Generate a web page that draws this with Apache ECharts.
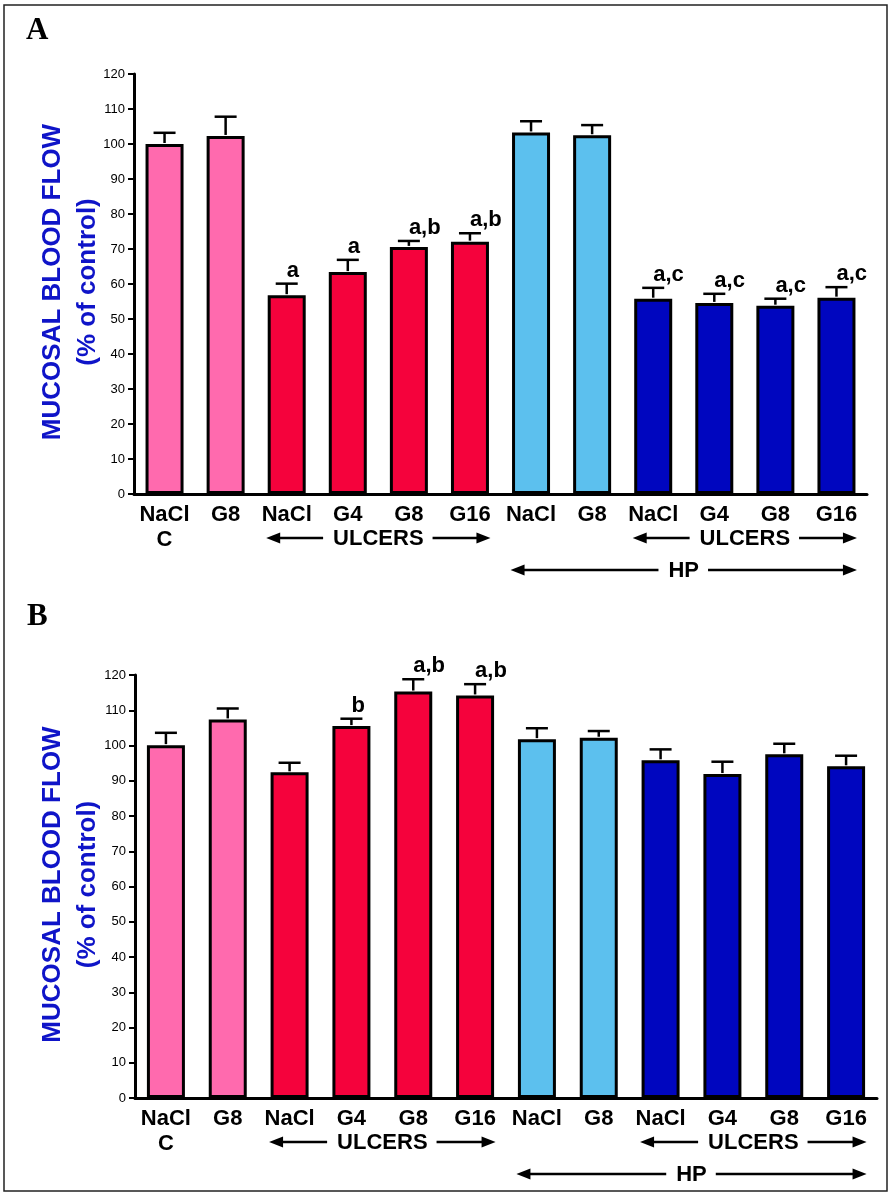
<!DOCTYPE html>
<html>
<head>
<meta charset="utf-8">
<script src="https://cdn.jsdelivr.net/npm/echarts@6/dist/echarts.min.js"></script>
<style>
html,body{margin:0;padding:0;background:#fff;}
#chart{width:890px;height:1194px;}
</style>
</head>
<body>
<div id="chart"></div>
<script>
// ---------- data ----------
const categories = ['NaCl\nC', 'G8', 'NaCl', 'G4', 'G8', 'G16', 'NaCl', 'G8', 'NaCl', 'G4', 'G8', 'G16'];
const flowA = [100.0, 102.3, 56.8, 63.4, 70.6, 72.1, 103.3, 102.5, 55.8, 54.6, 53.8, 56.1];
const semA  = [3.2, 5.5, 3.3, 3.5, 1.7, 2.4, 3.2, 2.9, 3.1, 2.6, 2.0, 3.0];
const sigA  = ['', '', 'a', 'a', 'a,b', 'a,b', '', '', 'a,c', 'a,c', 'a,c', 'a,c'];
const flowB = [100.1, 107.4, 92.4, 105.5, 115.3, 114.2, 101.8, 102.2, 95.8, 91.9, 97.5, 94.1];
const semB  = [3.5, 3.1, 2.7, 2.1, 3.5, 3.2, 3.1, 1.9, 3.1, 3.5, 3.0, 3.0];
const sigB  = ['', '', '', 'b', 'a,b', 'a,b', '', '', '', '', '', ''];
const yTitle = ['MUCOSAL BLOOD FLOW', '(% of control)'];
const groupSpans = [
  {from: 2, to: 5, text: 'ULCERS', row: 1},
  {from: 8, to: 11, text: 'ULCERS', row: 1},
  {from: 6, to: 11, text: 'HP', row: 2}
];
const panelLabels = ['A', 'B'];

// ---------- styles ----------
const barColors = ['#FF6AAE', '#FF6AAE', '#F5023C', '#F5023C', '#F5023C', '#F5023C',
                   '#5CC0EE', '#5CC0EE', '#0006BF', '#0006BF', '#0006BF', '#0006BF'];
const FONT = '"Liberation Sans", Arial, sans-serif';
const TITLE_COLOR = '#0F14C8';
const BAR_W = 38, BAR_BORDER = 3;
const HALF_OUTER = (BAR_W + BAR_BORDER) / 2;
const rowOffsets = {1: 44, 2: 76};

const mctx = document.createElement('canvas').getContext('2d');
mctx.font = 'bold 22px "Liberation Sans"';
function textW(t) { return mctx.measureText(t).width; }

const chart = echarts.init(document.getElementById('chart'));

const grids = [
  {left: 134, top: 74, width: 733, height: 420},
  {left: 135, top: 675, width: 742, height: 423}
];

function xAxis(gi) {
  return {
    type: 'category', gridIndex: gi, data: categories,
    axisLine: {lineStyle: {color: '#000', width: 3}},
    axisTick: {show: false},
    axisLabel: {color: '#000', fontFamily: FONT, fontWeight: 'bold', fontSize: 22, lineHeight: 25, margin: 8, interval: 0}
  };
}
function yAxis(gi) {
  return {
    type: 'value', gridIndex: gi, min: 0, max: 120, interval: 10,
    axisLine: {show: true, lineStyle: {color: '#000', width: 3}},
    axisTick: {show: true, length: 6, lineStyle: {color: '#000', width: 2}},
    axisLabel: {color: '#000', fontFamily: FONT, fontSize: 13, margin: 9},
    splitLine: {show: false}
  };
}

function barSeries(gi, vals) {
  return {
    type: 'bar', xAxisIndex: gi, yAxisIndex: gi, barWidth: BAR_W,
    data: vals.map((v, i) => ({value: v, itemStyle: {color: barColors[i]}})),
    itemStyle: {borderColor: '#000', borderWidth: BAR_BORDER},
    z: 2
  };
}

function errSeries(gi, vals, sems, sigs) {
  return {
    type: 'custom', xAxisIndex: gi, yAxisIndex: gi, z: 3, clip: false,
    data: vals.map((v, i) => [i, v, sems[i]]),
    renderItem: function (params, api) {
      const i = api.value(0), v = api.value(1), e = api.value(2);
      const p0 = api.coord([i, v]);
      const p1 = api.coord([i, v + e]);
      const children = [
        {type: 'line', shape: {x1: p0[0], y1: p0[1] - 1, x2: p1[0], y2: p1[1]}, style: {stroke: '#000', lineWidth: 2.5}},
        {type: 'line', shape: {x1: p1[0] - 11, y1: p1[1], x2: p1[0] + 11, y2: p1[1]}, style: {stroke: '#000', lineWidth: 2.5}}
      ];
      const s = sigs[params.dataIndex];
      if (s) {
        children.push({type: 'text', style: {text: s, x: p1[0], y: p1[1] - 2, align: 'left', verticalAlign: 'bottom',
          fill: '#000', font: 'bold 22px ' + FONT}});
      }
      return {type: 'group', children: children};
    }
  };
}

function arrowSeries(gi) {
  return {
    type: 'custom', xAxisIndex: gi, yAxisIndex: gi, z: 3, clip: false, silent: true,
    data: groupSpans.map(g => [g.from, g.to]),
    renderItem: function (params, api) {
      const g = groupSpans[params.dataIndex];
      const a = api.coord([api.value(0), 0]);
      const b = api.coord([api.value(1), 0]);
      const left = a[0] - HALF_OUTER, right = b[0] + HALF_OUTER;
      const y = a[1] + rowOffsets[g.row];
      const cx = (left + right) / 2;
      const w = textW(g.text);
      const head = 14, hh = 5.5;
      return {type: 'group', children: [
        {type: 'line', shape: {x1: left + head - 2, y1: y, x2: cx - w / 2 - 10, y2: y}, style: {stroke: '#000', lineWidth: 2.5}},
        {type: 'line', shape: {x1: cx + w / 2 + 9, y1: y, x2: right - head + 2, y2: y}, style: {stroke: '#000', lineWidth: 2.5}},
        {type: 'polygon', shape: {points: [[left, y], [left + head, y - hh], [left + head, y + hh]]}, style: {fill: '#000'}},
        {type: 'polygon', shape: {points: [[right, y], [right - head, y - hh], [right - head, y + hh]]}, style: {fill: '#000'}},
        {type: 'text', style: {text: g.text, x: cx, y: y + 1, align: 'center', verticalAlign: 'middle', fill: '#000', font: 'bold 22px ' + FONT}}
      ]};
    }
  };
}

function yTitleGraphics(g) {
  const cy = g.top + g.height / 2;
  const xs = [53, 88];
  return yTitle.map((t, k) => ({
    type: 'text', x: xs[k], y: cy - 2, rotation: Math.PI / 2,
    style: {text: t, align: 'center', verticalAlign: 'middle', fill: TITLE_COLOR, font: 'bold 26px ' + FONT}
  }));
}

chart.setOption({
  animation: false,
  backgroundColor: '#fff',
  grid: grids,
  xAxis: [xAxis(0), xAxis(1)],
  yAxis: [yAxis(0), yAxis(1)],
  series: [
    barSeries(0, flowA), errSeries(0, flowA, semA, sigA), arrowSeries(0),
    barSeries(1, flowB), errSeries(1, flowB, semB, sigB), arrowSeries(1)
  ],
  graphic: [
    {type: 'rect', shape: {x: 4, y: 5, width: 883, height: 1186}, style: {fill: 'none', stroke: '#222', lineWidth: 1.5}, z: 10},
    {type: 'text', left: 26, top: 15, style: {text: panelLabels[0], fill: '#000', font: 'bold 31px "Liberation Serif", "Times New Roman", serif'}},
    {type: 'text', left: 27, top: 601, style: {text: panelLabels[1], fill: '#000', font: 'bold 31px "Liberation Serif", "Times New Roman", serif'}}
  ].concat(yTitleGraphics(grids[0]), yTitleGraphics(grids[1]))
});
</script>
</body>
</html>
